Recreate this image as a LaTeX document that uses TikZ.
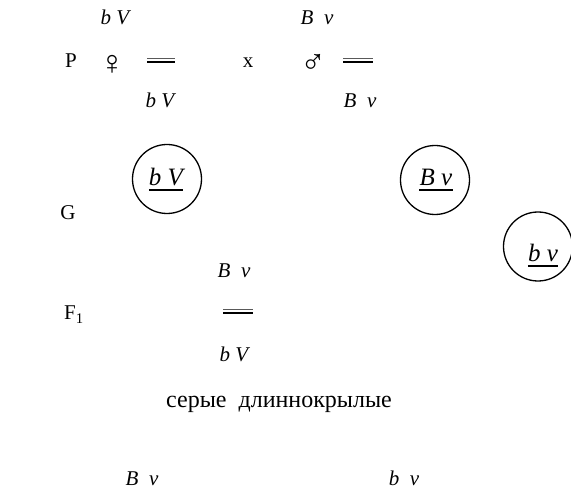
\documentclass[tikz,border=0pt]{standalone}
\usepackage{fontspec}
\setmainfont{Liberation Serif}
\begin{document}
\begin{tikzpicture}[x=1pt,y=-1pt,
  lbl/.style={inner sep=0pt, anchor=base, font=\fontsize{21}{25}\selectfont},
  it/.style={lbl, font=\fontsize{21}{25}\selectfont\itshape},
  git/.style={lbl, font=\fontsize{25}{29}\selectfont\itshape},
  sym/.style={lbl, font=\fontsize{34}{38}\selectfont},
  gam/.style={circle, draw, line width=1.3pt, minimum size=69pt, inner sep=0pt},
  uline/.style={line width=1.8pt},
  barA/.style={line width=0.9pt, black!65},
  barB/.style={line width=1.2pt, black}]
\useasboundingbox (0,0) rectangle (571,489);
% P row
\node[it] (pf1) at (115,25) {b V};
\node[it] (pm1) at (317,25) {B\ \ v};
\node[lbl] (P) at (71,68) {P};
\node[sym] (fem) at (112,75) {♀};
\draw[barA] (147,58) -- (175,58);
\draw[barB] (147,62) -- (175,62);
\node[lbl] (cross) at (248,68) {x};
\node[sym] (male) at (313,74) {♂};
\draw[barA] (343,58) -- (373,58);
\draw[barB] (343,62) -- (373,62);
\node[it] (pf2) at (160,108) {b V};
\node[it] (pm2) at (360,108) {B\ \ v};
% gametes
\node[lbl] (G) at (68,220) {G};
\node[gam] (g1) at (167,179) {};
\node[git] (g1t) at (166,186) {b V};
\draw[uline] ([yshift=-4pt]g1t.base west) -- ([yshift=-4pt]g1t.base east);
\node[gam] (g2) at (435,180) {};
\node[git] (g2t) at (436,186) {B v};
\draw[uline] ([yshift=-4pt]g2t.base west) -- ([yshift=-4pt]g2t.base east);
\node[gam] (g3) at (538,246.5) {};
\node[git] (g3t) at (543,262) {b v};
\draw[uline] ([yshift=-4pt]g3t.base west) -- ([yshift=-4pt]g3t.base east);
% F1
\node[lbl] (F) at (74,320) {F\textsubscript{1}};
\node[it] (f1a) at (234,278) {B\ \ v};
\draw[barA] (223,309) -- (253,309);
\draw[barB] (223,313) -- (253,313);
\node[it] (f1b) at (234,362) {b V};
\node[lbl, anchor=base west, font=\fontsize{24}{28}\selectfont] (pheno) at (166,408) {серые\ \ длиннокрылые};
% bottom
\node[it] (b1) at (142,485) {B\ \ v};
\node[it] (b2) at (404,485) {b\ \ v};
\end{tikzpicture}
\end{document}
